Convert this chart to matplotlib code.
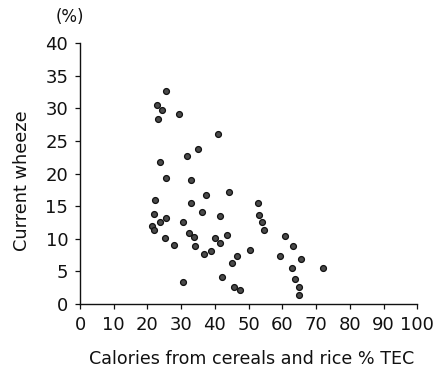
import matplotlib

matplotlib.use("Agg")
import matplotlib.pyplot as plt

# calories from cereals and rice (% TEC) vs current wheeze (%)
cereal_pct = [
    25.5, 22.8, 24.3, 23.0, 29.4, 40.9, 35.0, 31.7, 23.6, 25.5,
    32.9, 22.2, 37.5, 44.1, 32.9, 52.8, 36.3, 21.8, 53.1, 41.5,
    25.5, 23.7, 54.0, 30.6, 21.4, 22.0, 54.5, 60.7, 32.2, 43.6,
    33.7, 40.0, 25.1, 63.2, 28.0, 41.5, 34.1, 38.9, 50.4, 36.7,
    59.2, 46.7, 65.5, 45.2, 63.0, 72.1, 42.0, 63.7, 30.6, 64.8,
    45.8, 47.5, 65.0,
]
wheeze_pct = [
    32.7, 30.6, 29.7, 28.4, 29.1, 26.0, 23.8, 22.7, 21.8, 19.3,
    19.0, 16.0, 16.7, 17.2, 15.5, 15.5, 14.1, 13.8, 13.7, 13.5,
    13.2, 12.5, 12.5, 12.5, 12.0, 11.3, 11.4, 10.4, 10.8, 10.6,
    10.2, 10.1, 10.1, 8.9, 9.1, 9.3, 8.8, 8.1, 8.3, 7.7,
    7.4, 7.3, 6.9, 6.2, 5.5, 5.5, 4.1, 3.8, 3.3, 2.6,
    2.5, 2.1, 1.4,
]
x_ticks = list(range(0, 101, 10))
y_ticks = list(range(0, 41, 5))

plt.rcParams["font.family"] = ["DejaVu Sans"]

fig = plt.figure(figsize=(4.42, 3.70), dpi=100)
ax = fig.add_axes([0.181, 0.179, 0.763, 0.704])

ax.scatter(cereal_pct, wheeze_pct, s=18, color="#4a4a4a",
           edgecolors="#111111", linewidths=0.9, zorder=3, clip_on=False)

ax.set_xlim(0, 100)
ax.set_ylim(0, 40)
ax.set_xticks(x_ticks)
ax.set_yticks(y_ticks)
ax.tick_params(direction="out", length=3.5, width=0.9, labelsize=13,
               colors="#111111")
ax.tick_params(axis="x", pad=5)
ax.tick_params(axis="y", pad=5)
for side in ("top", "right"):
    ax.spines[side].set_visible(False)
for side in ("left", "bottom"):
    ax.spines[side].set_linewidth(1.0)
    ax.spines[side].set_color("#111111")

ax.set_xlabel("Calories from cereals and rice % TEC", fontsize=12.6,
              color="#111111")
ax.xaxis.set_label_coords(0.51, -0.178)
ax.set_ylabel("Current wheeze", fontsize=12.8, color="#111111")
ax.yaxis.set_label_coords(-0.145, 0.472)
ax.text(-0.03, 1.065, "(%)", transform=ax.transAxes, fontsize=12,
        ha="center", va="bottom", color="#111111")

fig.savefig("out.png", dpi=100)
